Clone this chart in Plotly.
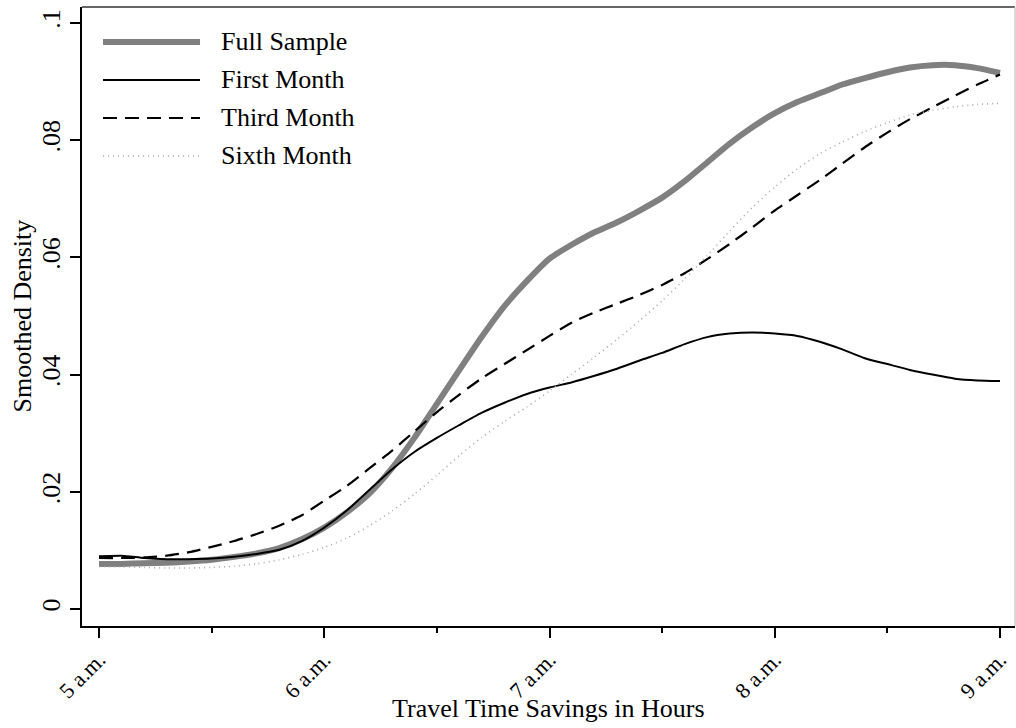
import plotly.graph_objects as go

hours = [5.0, 5.1, 5.2, 5.3, 5.4, 5.5, 5.6, 5.7, 5.8, 5.9,
         6.0, 6.1, 6.2, 6.3, 6.4, 6.5, 6.6, 6.7, 6.8, 6.9,
         7.0, 7.1, 7.2, 7.3, 7.4, 7.5, 7.6, 7.7, 7.8, 7.9,
         8.0, 8.1, 8.2, 8.3, 8.4, 8.5, 8.6, 8.7, 8.8, 8.9, 9.0]

full_sample = [0.0077, 0.0077, 0.0078, 0.0079, 0.0081, 0.0084, 0.0089, 0.0095, 0.0104, 0.0119,
               0.0139, 0.0165, 0.0197, 0.0240, 0.0292, 0.0350, 0.0408, 0.0465, 0.0517, 0.0560,
               0.0598, 0.0622, 0.0643, 0.0660, 0.0680, 0.0702, 0.0730, 0.0762, 0.0794, 0.0822,
               0.0846, 0.0865, 0.0880, 0.0895, 0.0906, 0.0916, 0.0924, 0.0928, 0.0928, 0.0923, 0.0915]

first_month = [0.0090, 0.0091, 0.0087, 0.0085, 0.0085, 0.0086, 0.0089, 0.0094, 0.0101, 0.0116,
               0.0139, 0.0168, 0.0203, 0.0238, 0.0268, 0.0292, 0.0314, 0.0335, 0.0352, 0.0367,
               0.0378, 0.0387, 0.0398, 0.0410, 0.0424, 0.0437, 0.0452, 0.0464, 0.0470, 0.0472,
               0.0470, 0.0466, 0.0456, 0.0443, 0.0428, 0.0418, 0.0408, 0.0400, 0.0393, 0.0390, 0.0389]

third_month = [0.0087, 0.0087, 0.0088, 0.0091, 0.0097, 0.0106, 0.0116, 0.0128, 0.0142, 0.0160,
               0.0185, 0.0210, 0.0240, 0.0270, 0.0303, 0.0336, 0.0366, 0.0394, 0.0418, 0.0442,
               0.0466, 0.0489, 0.0506, 0.0521, 0.0536, 0.0553, 0.0573, 0.0597, 0.0623, 0.0651,
               0.0680, 0.0706, 0.0732, 0.0760, 0.0788, 0.0813, 0.0836, 0.0856, 0.0876, 0.0895, 0.0912]

sixth_month = [0.0072, 0.0072, 0.0071, 0.0070, 0.0070, 0.0071, 0.0073, 0.0077, 0.0084, 0.0093,
               0.0105, 0.0121, 0.0142, 0.0167, 0.0196, 0.0228, 0.0262, 0.0293, 0.0320, 0.0345,
               0.0372, 0.0401, 0.0430, 0.0460, 0.0492, 0.0526, 0.0563, 0.0603, 0.0645, 0.0685,
               0.0720, 0.0751, 0.0777, 0.0797, 0.0815, 0.0830, 0.0843, 0.0851, 0.0857, 0.0861, 0.0863]

x_tickvals = [5, 6, 7, 8, 9]
x_ticktext = ["5 a.m.", "6 a.m.", "7 a.m.", "8 a.m.", "9 a.m."]
y_tickvals = [0, 0.02, 0.04, 0.06, 0.08, 0.1]
y_ticktext = ["0", ".02", ".04", ".06", ".08", ".1"]

series_names = ["Full Sample", "First Month", "Third Month", "Sixth Month"]
series_data = [full_sample, first_month, third_month, sixth_month]
styles = [
    dict(color="#808080", width=6, dash="solid"),
    dict(color="#000000", width=2, dash="solid"),
    dict(color="#000000", width=2.2, dash="14px,8px"),
    dict(color="#a8a8a8", width=1.6, dash="1px,4px"),
]

FONT = "Liberation Serif"

fig = go.Figure()
for name, ys, st in zip(series_names, series_data, styles):
    fig.add_trace(go.Scatter(
        x=hours, y=ys, mode="lines", name=name,
        line=dict(color=st["color"], width=st["width"], dash=st["dash"],
                  shape="spline", smoothing=0.6),
        showlegend=False,
    ))

# Manual legend (long line samples like the original)
row_y = [0.9435, 0.8821, 0.8207, 0.7593]
for name, st, yy in zip(series_names, styles, row_y):
    fig.add_shape(type="line", xref="paper", yref="paper",
                  x0=0.0225, x1=0.1265, y0=yy, y1=yy,
                  line=dict(color=st["color"], width=st["width"], dash=st["dash"]))
    fig.add_annotation(xref="paper", yref="paper", x=0.147, y=yy, text=name,
                       showarrow=False, xanchor="left", yanchor="middle",
                       font=dict(family=FONT, size=26, color="#000"))

# Axis titles placed like the original
fig.add_annotation(xref="paper", yref="paper", x=0.5, y=-0.1325,
                   text="Travel Time Savings in Hours", showarrow=False,
                   xanchor="center", yanchor="middle",
                   font=dict(family=FONT, size=26, color="#000"))
fig.add_annotation(xref="paper", yref="paper", x=-0.0643, y=0.5,
                   text="Smoothed Density", showarrow=False, textangle=-90,
                   xanchor="center", yanchor="middle",
                   font=dict(family=FONT, size=26, color="#000"))

# Frame: top and right borders
fig.add_shape(type="line", xref="paper", yref="paper", x0=0, x1=1, y0=1, y1=1,
              line=dict(color="#333333", width=1.5))
fig.add_shape(type="line", xref="paper", yref="paper", x0=1, x1=1, y0=0, y1=1,
              line=dict(color="#cccccc", width=1.5))

fig.update_layout(
    width=1016, height=728,
    margin=dict(l=82, r=1, t=7, b=102),
    paper_bgcolor="white", plot_bgcolor="white",
    font=dict(family=FONT, size=24, color="#000"),
    xaxis=dict(
        range=[4.9245, 9.0666], tickvals=x_tickvals, ticktext=x_ticktext,
        tickangle=-45, ticks="outside", ticklen=10, tickwidth=2, tickcolor="#000",
        showline=True, linecolor="#000", linewidth=2, showgrid=False, zeroline=False,
        minor=dict(dtick=0.5, tick0=5, ticks="outside", ticklen=5, tickwidth=1.5, tickcolor="#000"),
        tickfont=dict(family=FONT, size=22),
    ),
    yaxis=dict(
        range=[-0.0029, 0.10273], tickvals=y_tickvals, ticktext=y_ticktext,
        tickangle=-90, ticks="outside", ticklen=10, tickwidth=2, tickcolor="#000",
        showline=True, linecolor="#000", linewidth=2, showgrid=False, zeroline=False,
        tickfont=dict(family=FONT, size=26),
    ),
)

fig.write_html("out.html")
